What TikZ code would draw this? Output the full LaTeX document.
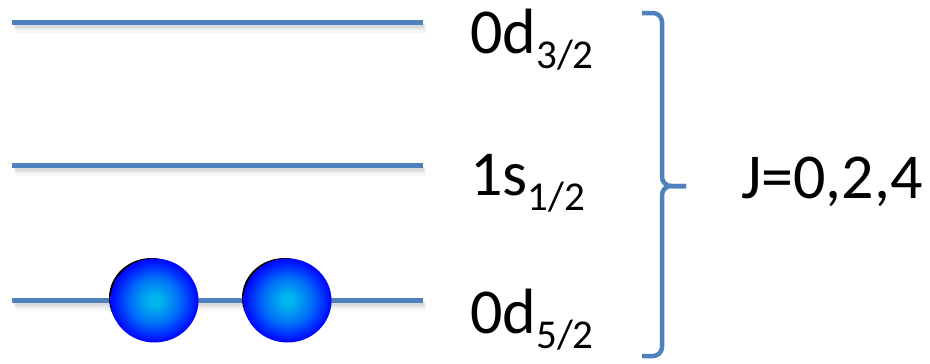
\documentclass[tikz,border=0pt]{standalone}
\usepackage{fontspec}
\setmainfont{Carlito}
\definecolor{levelblue}{RGB}{79,129,189}
\definecolor{ballcore}{RGB}{0,182,236}
\definecolor{ballmid}{RGB}{0,110,248}
\definecolor{ballrim}{RGB}{0,12,255}
% TikZ stretches the inner 50bp square of a shading over the path
\pgfdeclareradialshading{ballshade}{\pgfpoint{0bp}{0bp}}{%
  color(0bp)=(ballcore); color(3bp)=(ballcore); color(14bp)=(ballmid);
  color(24bp)=(ballrim); color(50bp)=(ballrim)}
\tikzset{
  level/.style={draw=levelblue, line width=5pt},
  levelshadow/.style={draw=black, line width=4pt, opacity=0.07},
  bracket/.style={draw=levelblue, line width=4.5pt, rounded corners=9pt},
  label/.style={inner sep=0pt, anchor=base west, font=\fontsize{64}{64}\selectfont},
  ball/.style={shading=ballshade},
}
\newcommand{\lowsub}[1]{\raisebox{-15pt}{\fontsize{41}{41}\selectfont #1}}
\begin{document}
\begin{tikzpicture}[x=1pt,y=-1pt]
  \useasboundingbox (0,0) rectangle (930,364);
  % soft shadows under the levels
  \foreach \y in {22,165,300} {
    \draw[levelshadow] (14,\y+4) -- (424,\y+4);
    \draw[levelshadow, line width=6pt, opacity=0.05] (15,\y+5) -- (425,\y+5);
    \draw[levelshadow, line width=9pt, opacity=0.03] (16,\y+6) -- (426,\y+6);
  }
  % single-particle levels
  \draw[level] (12,22) -- (423,22);
  \draw[level] (12,165) -- (423,165);
  \draw[level] (12,300) -- (423,300);
  % two nucleons in the lowest level
  \foreach \cx/\nm in {154/ballA, 287/ballB} {
    \fill[black] (\cx-2.5,298) ellipse [x radius=42.5pt, y radius=40pt];
    \shade[ball] (\cx+0.5,300.5) ellipse [x radius=44pt, y radius=42pt];
    \coordinate (\nm) at (\cx,300);
  }
  % level labels
  \node[label] (d32) at (470,53) {0d\lowsub{3/2}};
  \node[label] (s12) at (470,195) {1s\lowsub{1/2}};
  \node[label] (d52) at (470,333) {0d\lowsub{5/2}};
  % bracket grouping the three levels
  \coordinate (bt) at (642,13);
  \coordinate (bb) at (642,356);
  \coordinate (bm) at (686,186);
  \draw[bracket] (bt) -- (662,13) -- (662,186) -- (bm);
  \draw[bracket] (bm) -- (662,186) -- (662,356) -- (bb);
  \node[label] (J) at (741,198) {J=0,2,4};
\end{tikzpicture}
\end{document}
